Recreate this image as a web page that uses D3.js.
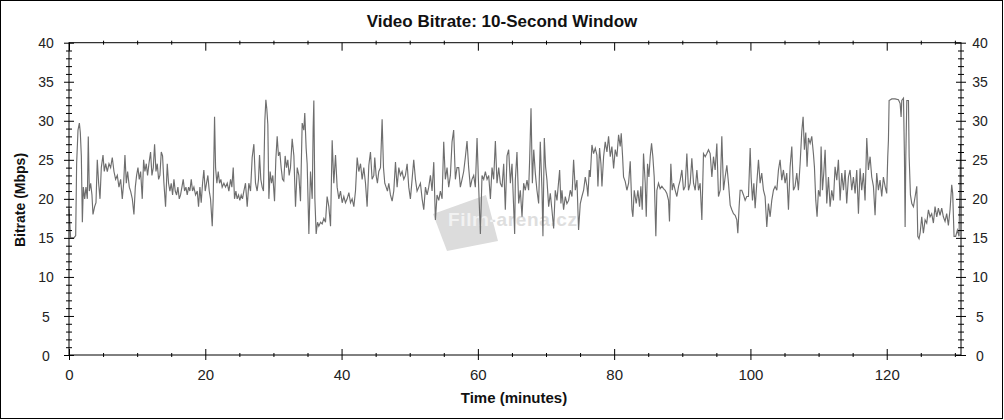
<!DOCTYPE html>
<html>
<head>
<meta charset="utf-8">
<script src="https://cdn.jsdelivr.net/npm/d3@7"></script>
<style>
  html, body { margin: 0; padding: 0; background: #fff; }
  svg { display: block; font-family: "Liberation Sans", Arial, sans-serif; }
</style>
</head>
<body>
<svg id="chart" width="1004" height="420"></svg>
<script>
// ---- data ----
const chartTitle = "Video Bitrate: 10-Second Window";
const xTitle = "Time (minutes)";
const yTitle = "Bitrate (Mbps)";
const xMajorTicks = [0, 20, 40, 60, 80, 100, 120];
const yMajorTicks = [0, 5, 10, 15, 20, 25, 30, 35, 40];
const xMax = 130.9;
const yMax = 40;

const minutes = [
0,0.24,0.73,0.98,1.12,1.32,1.52,1.66,1.81,1.96,2.1,2.3,2.49,2.69,2.83,2.98,3.18,3.37,3.52,3.76,3.96,4.15,4.35,4.55,4.74,4.99,
5.18,5.38,5.62,5.87,6.11,6.35,6.6,6.84,7.09,7.33,7.58,7.82,8.02,8.21,8.41,8.6,8.85,9.04,9.29,9.53,9.73,9.92,
10.12,10.31,10.51,10.75,10.95,11.14,11.34,11.53,11.73,11.97,12.17,12.37,12.56,12.76,12.95,13.15,13.34,13.54,13.73,13.93,14.17,14.42,14.61,14.81,
15.0,15.2,15.4,15.59,15.79,15.98,16.18,16.37,16.57,16.76,16.96,17.16,17.35,17.55,17.74,17.94,18.13,18.33,18.57,18.82,19.01,19.21,19.4,19.6,19.79,19.99,
20.18,20.38,20.58,20.77,21.02,21.16,21.36,21.51,21.7,21.9,22.09,22.29,22.48,22.73,22.97,23.22,23.46,23.71,23.9,24.1,24.29,24.49,24.68,24.88,
25.07,25.27,25.46,25.66,25.9,26.15,26.39,26.64,26.88,27.13,27.37,27.61,27.81,27.96,28.15,28.35,28.54,28.74,28.89,29.03,29.18,29.33,29.52,29.72,29.91,
30.16,30.35,30.55,30.74,30.94,31.13,31.33,31.52,31.72,31.92,32.11,32.31,32.5,32.75,33.0,33.24,33.49,33.73,33.97,34.22,34.46,34.6,34.8,34.95,
35.2,35.44,35.69,35.83,35.93,36.08,36.27,36.47,36.66,36.91,37.15,37.4,37.64,37.88,38.13,38.38,38.62,38.86,39.11,39.35,39.6,39.84,
40.09,40.33,40.57,40.82,41.07,41.31,41.55,41.8,42.04,42.29,42.53,42.78,43.02,43.26,43.51,43.75,44.0,44.24,44.48,44.73,44.87,
45.07,45.26,45.46,45.71,45.95,46.15,46.34,46.54,46.73,46.93,47.17,47.42,47.66,47.91,48.15,48.4,48.64,48.88,49.13,49.37,49.62,49.86,
50.1,50.35,50.59,50.84,51.08,51.33,51.57,51.82,52.06,52.31,52.55,52.79,53.04,53.28,53.53,53.77,54.01,54.26,54.5,54.75,54.99,
55.23,55.48,55.72,55.97,56.21,56.45,56.7,56.94,57.19,57.43,57.68,57.92,58.16,58.41,58.65,58.9,59.14,59.39,59.63,59.88,
60.12,60.37,60.61,60.86,61.1,61.35,61.59,61.84,62.08,62.32,62.57,62.81,63.06,63.3,63.55,63.79,64.03,64.28,64.52,64.77,65.01,65.4,
65.5,65.74,65.99,66.23,66.48,66.72,66.96,67.21,67.45,67.6,67.8,68.0,68.2,68.43,68.67,68.92,69.16,69.41,69.55,69.75,69.94,
70.14,70.39,70.63,70.87,71.12,71.36,71.61,72.0,72.19,72.34,72.58,72.83,73.07,73.32,73.56,73.81,74.05,74.3,74.54,74.78,
75.03,75.27,75.52,75.76,76.01,76.15,76.35,76.49,76.74,76.98,77.23,77.47,77.62,77.86,78.06,78.21,78.45,78.69,78.94,79.18,79.43,79.67,79.92,
80.16,80.41,80.65,80.89,81.04,81.24,81.38,81.63,81.87,82.12,82.36,82.61,82.75,82.95,83.24,83.48,83.73,83.92,84.12,84.31,84.56,84.71,84.9,
85.1,85.29,85.49,85.68,85.88,86.12,86.27,86.51,86.75,87.0,87.24,87.49,87.73,87.98,88.12,88.32,88.52,88.71,88.96,89.2,89.45,89.69,89.94,
90.18,90.42,90.67,90.91,91.16,91.4,91.65,91.89,92.14,92.38,92.62,92.87,93.11,93.36,93.6,93.85,94.09,94.34,94.58,94.82,
95.07,95.31,95.56,95.8,96.05,96.29,96.54,96.78,97.03,97.27,97.51,97.76,98.0,98.15,98.34,98.49,98.73,98.98,99.22,99.46,99.71,99.96,
100.1,100.3,100.5,100.69,100.93,101.18,101.42,101.66,101.91,102.15,102.4,102.64,102.89,103.13,103.38,103.62,103.87,104.11,104.35,104.6,104.84,
105.09,105.33,105.58,105.82,106.07,106.31,106.55,106.8,107.04,107.29,107.53,107.73,107.92,108.12,108.31,108.51,108.76,109.0,109.24,109.39,109.59,109.78,109.98,
110.22,110.37,110.57,110.76,110.96,111.2,111.45,111.69,111.93,112.18,112.42,112.67,112.91,113.16,113.4,113.65,113.89,114.13,114.38,114.62,114.87,
115.11,115.36,115.6,115.85,116.09,116.33,116.58,116.82,117.07,117.31,117.56,117.8,118.05,118.29,118.53,118.78,119.02,119.27,119.51,119.76,
120.0,120.15,120.25,120.35,120.74,121.23,121.72,121.97,122.11,122.21,122.46,122.6,122.7,122.8,122.95,123.19,123.29,123.48,123.68,123.92,124.17,124.41,124.56,124.74,124.9,
125.14,125.38,125.63,125.87,126.12,126.36,126.6,126.85,127.09,127.34,127.58,127.82,128.07,128.31,128.56,128.8,129.05,129.29,129.54,129.68,129.88,
130.12,130.37,130.61,130.85
];

const bitrate = [
18.7,15,15,15.3,24.5,28.8,29.7,28.5,25.5,17,21.5,20,21.5,20,28,21,22,20.5,18,19,19.5,25,22,20,24,25.6,
23.5,24.5,23.5,24.5,24,25.3,23.5,22.5,23,21.5,22.5,20,22,25.6,22,23.5,21.5,21,20,18,21.5,23,
24,22.5,23.5,20,25,23.5,24.5,23,24.5,26,23,24,27,23.5,24.5,22.5,23,26,25.5,22,19,24.5,22,21,
22,20.5,22.5,21,20.5,21.5,20,20.5,21.5,22.5,21,21.5,20.5,21.5,21,22.5,21,21.5,20.5,21,19,21.5,19.5,22,23.7,21,
22,23,21,20,16.5,20,30.5,24,22,23.5,22,22.5,21.5,22,21.5,22,21,22.5,21.5,24,20,21,20,20.5,
19.8,20.5,20,21,22,19,22,21,25.3,27,22,21,22.5,25.6,22.5,21.5,21,30,32.7,31.5,29.5,20,23.5,22,23,
19.7,25,28,25.5,26,24,22.5,22.3,25.5,24,25,23,24,27.7,25.5,19,24,23,19.7,29.7,28.8,31,26.5,24.5,
15.5,23.5,20,29,32.6,20,15.5,17,16.5,17,16.8,17.5,17,20.3,19,16.5,27.5,22,25.6,21.5,20,21,
19.5,20.3,19.5,20,20.8,19.5,20,19,21,25.3,23.5,24.5,22.5,24,22,19,24.3,26,22.5,23,25.3,
23,22,23.5,24,30.2,24,22,21.5,21,22,20.5,19.7,21,24.7,21.5,24,23,23.5,22.5,23,24.5,21.5,
20,22.5,25,22.5,21,21.5,22,20,18.6,21.5,20.5,21.5,23,21,24.7,17.3,20.5,19.8,21,20,27.3,
22.5,24,21.5,23,27.3,28.8,22.5,24,24,21.5,22.5,23.5,25.3,27.4,24,21.5,22.5,23,21.5,27.8,
21.5,15.5,23,22.5,23.5,22.5,23,20,24,22.5,27.4,22,24,22,21.5,24.5,18.6,25.5,26.3,22,24.5,15.5,
22.4,26.0,19.4,21.1,17.7,22.0,21.1,22.4,21.1,25,31.6,22.0,26.3,23.3,21.1,19.4,27.3,21.1,15.2,27.8,24.1,
22.4,19.0,20.7,18.6,16.2,21.1,19.8,23.7,19.4,21.1,18.6,20.3,19.4,19.8,21.1,20.3,25.0,21.1,22.4,16.0,
19.4,20.3,21.1,22.8,21.6,20.3,23.7,22.8,26.9,25.8,26.5,25.6,21.6,26.5,24.5,21.6,25.4,27.3,26.0,28.0,25.4,26.7,23.9,
26.3,25.4,28.2,26.7,28.4,25.4,22.8,22.2,21.1,22.0,24.8,18.6,17.7,21.1,19.4,21.1,19.0,21.6,18.6,25.8,22.0,17.7,24.5,
22.8,25.4,27.1,25.4,22.8,15.2,21.1,22.0,21.3,21.6,21.3,21.1,20.7,19.8,17.1,24.5,21.1,22.0,21.1,20.3,21.6,22.4,23.7,
21.1,21.6,25.8,21.1,22.0,25.2,22.0,21.1,23.7,21.1,22.0,17.3,25.8,25.4,25.8,26.3,25.8,22.8,25.4,23.7,
27.1,20.3,21.1,28.0,21.1,22.8,24.3,22.0,19.2,18.6,18.1,17.9,17.3,15.6,19.0,21.1,21.1,20.5,19.8,20.3,20.3,26.5,
22.8,19.8,22.0,18.8,22.0,25.0,22.0,23.3,21.1,20.3,16.4,19.4,17.7,19.8,21.1,21.6,21.1,23.7,25.0,22.4,23.7,
22.0,23.3,18.6,24.1,26.7,21.1,21.6,23.3,21.1,24.5,28.6,30.5,26.3,28.5,24.1,27.8,27.1,28.0,25.8,24.1,19.8,17.7,21.1,
20.3,26.7,21.1,23.3,26.3,19.4,22.8,19.0,21.1,19.8,24.1,22.4,25.0,19.8,23.3,21.1,23.7,19.4,22.8,23.7,21.1,
22.8,20.7,23.7,18.1,23.9,21.1,23.3,19.8,27.8,23.7,25.4,22.8,21.6,17.9,23.3,21.1,22.4,20.3,22.8,21.6,
20.7,25.4,27.5,32.6,32.8,32.8,32.7,32.2,30.5,32.6,32.9,25.4,16.4,25.4,32.6,32.6,25.4,20.5,19.4,19.0,20.3,21.6,15.2,14.9,15.6,
17.7,15.6,17.3,16.9,18.6,17.7,18.1,16.9,19.0,17.7,18.8,17.9,18.8,17.7,17.1,18.1,16.6,18.6,21.8,20.7,15.2,
15.2,16.0,15.2,27
];

// ---- drawing ----
const svg = d3.select("#chart");
const W = 1004, H = 420;
const x = d3.scaleLinear().domain([0, xMax]).range([69, 961]);
const y = d3.scaleLinear().domain([0, yMax]).range([355, 42.7]);

// outer border
svg.append("rect").attr("x", 0.5).attr("y", 0.5).attr("width", W - 2).attr("height", H - 2)
  .attr("fill", "#fff").attr("stroke", "#000").attr("stroke-width", 1);

// watermark
const wm = svg.append("g").attr("class", "watermark");
const wmPoly = [[433, 214], [486, 195], [498, 241], [447, 251]];
wm.append("polygon").attr("points", wmPoly.map(p => p.join(",")).join(" ")).attr("fill", "#dcdcdc");
svg.append("clipPath").attr("id", "wmclip").append("polygon")
  .attr("points", wmPoly.map(p => p.join(",")).join(" "));
wm.append("text").attr("x", 448).attr("y", 226).attr("textLength", 129)
  .attr("font-size", 19).attr("font-weight", "bold").attr("fill", "#dedede").text("Film-arena.cz");
wm.append("text").attr("x", 448).attr("y", 226).attr("textLength", 129).attr("clip-path", "url(#wmclip)")
  .attr("font-size", 19).attr("font-weight", "bold").attr("fill", "#f2f2f2").text("Film-arena.cz");

// data line
const line = d3.line().x((d, i) => x(minutes[i])).y(d => y(d));
svg.append("path").datum(bitrate).attr("d", line)
  .attr("fill", "none").attr("stroke", "#6e6e6e").attr("stroke-width", 1.15);

// plot frame
svg.append("rect").attr("x", x(0)).attr("y", y(yMax)).attr("width", x(xMax) - x(0)).attr("height", y(0) - y(yMax))
  .attr("fill", "none").attr("stroke", "#000").attr("stroke-width", 1);

const fontFam = '"Liberation Sans", Arial, sans-serif';
function styleAxis(g) {
  g.select(".domain").remove();
  g.selectAll("line").attr("stroke", "#000");
  g.selectAll("text").attr("font-family", fontFam).attr("font-size", 14).attr("fill", "#222");
}

const xMinor = d3.range(0, 131, 5).filter(v => v % 20 !== 0);
const yMinor = d3.range(0, 41, 1).filter(v => v % 5 !== 0);

// bottom axis
const gB = svg.append("g").attr("transform", `translate(0,${y(0)})`)
  .call(d3.axisBottom(x).tickValues(xMajorTicks).tickFormat(d3.format("d")).tickSizeOuter(0));
styleAxis(gB);
gB.selectAll(".tick line").attr("y1", -6).attr("y2", 5);
gB.selectAll(".tick text").attr("y", 25).attr("dy", 0).attr("font-size", 15);
const gBm = svg.append("g").attr("transform", `translate(0,${y(0)})`)
  .call(d3.axisBottom(x).tickValues(xMinor).tickFormat("").tickSizeOuter(0));
styleAxis(gBm);
gBm.selectAll(".tick line").attr("y1", -2).attr("y2", 2);

// top axis
const gT = svg.append("g").attr("transform", `translate(0,${y(yMax)})`)
  .call(d3.axisTop(x).tickValues(xMajorTicks).tickFormat("").tickSizeOuter(0));
styleAxis(gT);
gT.selectAll(".tick line").attr("y1", 0).attr("y2", 8);
const gTm = svg.append("g").attr("transform", `translate(0,${y(yMax)})`)
  .call(d3.axisTop(x).tickValues(xMinor).tickFormat("").tickSizeOuter(0));
styleAxis(gTm);
gTm.selectAll(".tick line").attr("y1", -2).attr("y2", 2);

// left axis
const gL = svg.append("g").attr("transform", `translate(${x(0)},0)`)
  .call(d3.axisLeft(y).tickValues(yMajorTicks).tickFormat(d3.format("d")).tickSizeOuter(0));
styleAxis(gL);
gL.selectAll(".tick line").attr("x1", -5).attr("x2", 5);
gL.selectAll(".tick text").attr("x", -23).attr("text-anchor", "middle").attr("dy", "0.36em");
const gLm = svg.append("g").attr("transform", `translate(${x(0)},0)`)
  .call(d3.axisLeft(y).tickValues(yMinor).tickFormat("").tickSizeOuter(0));
styleAxis(gLm);
gLm.selectAll(".tick line").attr("x1", -3).attr("x2", 3);

// right axis
const gR = svg.append("g").attr("transform", `translate(${x(xMax)},0)`)
  .call(d3.axisRight(y).tickValues(yMajorTicks).tickFormat(d3.format("d")).tickSizeOuter(0));
styleAxis(gR);
gR.selectAll(".tick line").attr("x1", -5).attr("x2", 5);
gR.selectAll(".tick text").attr("x", 19).attr("text-anchor", "middle").attr("dy", "0.36em");
const gRm = svg.append("g").attr("transform", `translate(${x(xMax)},0)`)
  .call(d3.axisRight(y).tickValues(yMinor).tickFormat("").tickSizeOuter(0));
styleAxis(gRm);
gRm.selectAll(".tick line").attr("x1", -3).attr("x2", 3);

// titles
svg.append("text").attr("x", 502).attr("y", 27).attr("text-anchor", "middle")
  .attr("font-family", fontFam).attr("font-size", 17).attr("font-weight", "bold").attr("fill", "#111")
  .text(chartTitle);
svg.append("text").attr("x", 514).attr("y", 403).attr("text-anchor", "middle")
  .attr("font-family", fontFam).attr("font-size", 15).attr("font-weight", "bold").attr("fill", "#111")
  .text(xTitle);
svg.append("text").attr("transform", "translate(25,200) rotate(-90)").attr("text-anchor", "middle")
  .attr("font-family", fontFam).attr("font-size", 14).attr("font-weight", "bold").attr("fill", "#111")
  .text(yTitle);

if (minutes.length !== bitrate.length) console.error("length mismatch", minutes.length, bitrate.length);
</script>
</body>
</html>
